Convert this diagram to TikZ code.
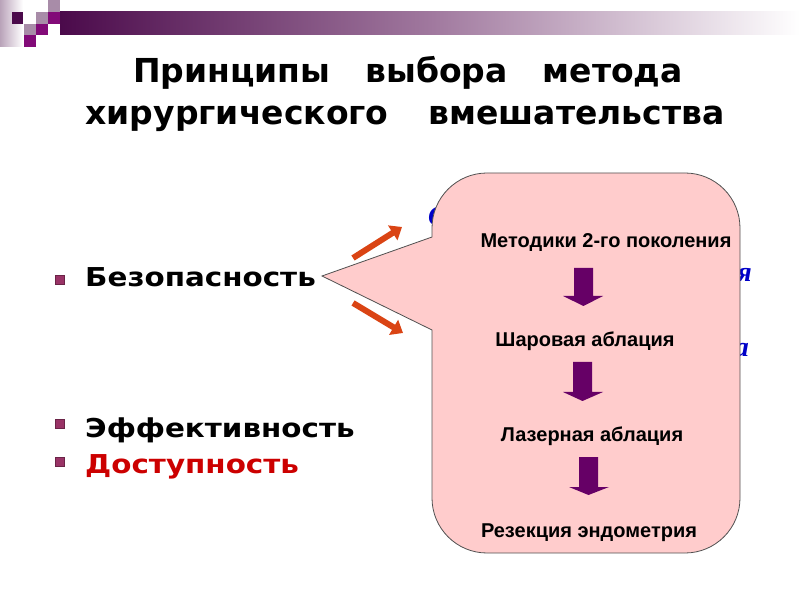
\documentclass[tikz,border=0pt]{standalone}
\usepackage{fontspec}
\usepackage{graphicx}
\setmainfont{DejaVu Sans}
\newfontfamily\arialfont{Liberation Sans}
\newfontfamily\timesfont{Liberation Serif}
\usetikzlibrary{arrows.meta}
\definecolor{darkplum}{RGB}{75,10,75}
\definecolor{midplum}{RGB}{160,120,158}
\definecolor{grayplum}{RGB}{168,140,168}
\definecolor{magplum}{RGB}{130,10,120}
\definecolor{calloutfill}{RGB}{255,204,204}
\definecolor{calloutline}{RGB}{80,80,80}
\definecolor{arrowpurple}{RGB}{102,0,102}
\definecolor{orangered}{RGB}{218,68,20}
\definecolor{bulletc}{RGB}{153,51,102}
\definecolor{redtext}{RGB}{204,0,0}
\definecolor{hiddenblue}{RGB}{0,0,200}
\newcommand{\widetext}[1]{\scalebox{1.13}[1]{#1}}
\tikzset{
  titletext/.style={anchor=base, font=\bfseries\fontsize{33}{38}\selectfont, inner sep=0},
  itemtext/.style={anchor=base west, font=\bfseries\fontsize{26}{30}\selectfont, inner sep=0},
  bulletsq/.style={fill=bulletc, draw=bulletc!70!black, line width=0.4pt, minimum size=9pt, inner sep=0},
  stagetext/.style={anchor=base, font=\arialfont\bfseries\fontsize{20}{24}\selectfont, inner sep=0},
  blockarrow/.style={fill=arrowpurple, draw=none},
  pointarrow/.style={draw=orangered, line width=6pt, -{Triangle[length=11pt,width=17pt]}},
  hidden/.style={anchor=base, text=hiddenblue, font=\timesfont\itshape\bfseries\fontsize{28}{30}\selectfont, inner sep=0},
}
\begin{document}
\begin{tikzpicture}[x=1pt,y=1pt]
\useasboundingbox (0,0) rectangle (800,600);
% header decoration
\shade[left color=grayplum!80, right color=white] (0,553) rectangle (23,600);
\shade[left color=darkplum, right color=white, middle color=midplum] (60,565) rectangle (800,588);
\fill[darkplum] (12,576) rectangle (23,588);
\fill[grayplum] (48,588) rectangle (60,600);
\fill[grayplum] (36,576) rectangle (48,588);
\fill[magplum] (48,576) rectangle (60,588);
\fill[grayplum] (24,565) rectangle (36,576);
\fill[magplum] (36,565) rectangle (48,576);
\fill[magplum] (24,553) rectangle (36,565);
% title
\node[titletext] (title1) at (408,517) {Принципы\hspace{35pt}выбора\hspace{35pt}метода};
\node[titletext] (title2) at (405,475) {хирургического\hspace{40pt}вмешательства};
% bullets
\node[bulletsq] (b1) at (60,320) {};
\node[bulletsq] (b2) at (60,176) {};
\node[bulletsq] (b3) at (60,138) {};
\node[itemtext] (safety) at (85,313) {\widetext{Безопасность}};
\node[itemtext] (effect) at (85,163) {\widetext{Эффективность}};
\node[itemtext, text=redtext] (access) at (85,127) {\widetext{Доступность}};
% partly hidden blue text behind the callout
\node[hidden, anchor=base west] (hid1) at (428,374) {С};
\node[hidden, anchor=base east] (hid2) at (752,318) {ая};
\node[hidden, anchor=base east] (hid3) at (749,243) {ла};
% callout
\draw[fill=calloutfill, draw=calloutline, line width=0.8pt]
  (432,363) -- (322,324) -- (432,270) -- (432,102)
  arc[start angle=180, end angle=270, radius=55] -- (685,47)
  arc[start angle=270, end angle=360, radius=55] -- (740,372)
  arc[start angle=0, end angle=90, radius=55] -- (487,427)
  arc[start angle=90, end angle=180, radius=55] -- cycle;
\coordinate (tip) at (322,324);
% orange arrows
\coordinate (ua0) at (353,342);
\coordinate (ua1) at (402,373);
\coordinate (la0) at (353,297);
\coordinate (la1) at (403,267);
\draw[pointarrow] (ua0) -- (ua1);
\draw[pointarrow] (la0) -- (la1);
% stages
\node[stagetext] (s1) at (606,352) {Методики 2-го поколения};
\node[stagetext] (s2) at (585,253) {Шаровая аблация};
\node[stagetext] (s3) at (592,158) {Лазерная аблация};
\node[stagetext] (s4) at (589,63) {Резекция эндометрия};
% block arrows
\fill[blockarrow] (574,332) -- (593,332) -- (593,304) -- (603,304) -- (583.5,294) -- (563,304) -- (574,304) -- cycle;
\fill[blockarrow] (573,238) -- (592,238) -- (592,208) -- (603,208) -- (582.5,199) -- (563,208) -- (573,208) -- cycle;
\fill[blockarrow] (579,143) -- (598,143) -- (598,113) -- (609,113) -- (588.5,105) -- (569,113) -- (579,113) -- cycle;
\end{tikzpicture}
\end{document}
